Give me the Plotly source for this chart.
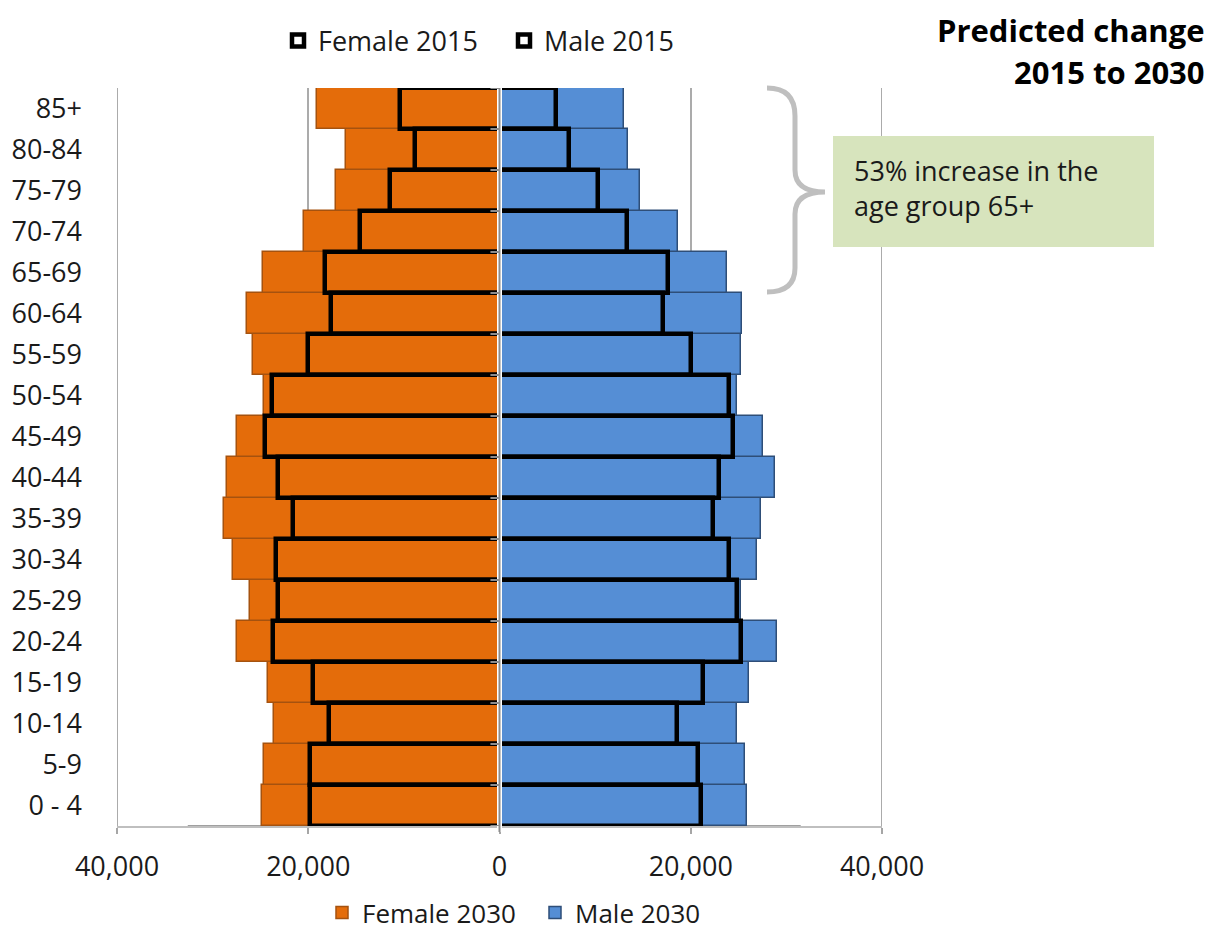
import plotly.graph_objects as go

# Age bands, youngest first (plotted bottom to top)
ages = ["0 - 4", "5-9", "10-14", "15-19", "20-24", "25-29", "30-34", "35-39",
        "40-44", "45-49", "50-54", "55-59", "60-64", "65-69", "70-74", "75-79",
        "80-84", "85+"]

female_2030 = [24850, 24640, 23590, 24220, 27460, 26100, 27870, 28810, 28500,
               27460, 24640, 25790, 26410, 24740, 20460, 17120, 16080, 19100]
male_2030 = [25890, 25680, 24850, 26100, 29020, 25260, 26940, 27350, 28810,
             27560, 24850, 25260, 25370, 23800, 18690, 14720, 13470, 13050]
female_2015 = [19840, 19840, 17850, 19520, 23700, 23180, 23380, 21610, 23180,
               24530, 23800, 20040, 17640, 18270, 14620, 11480, 8870, 10440]
male_2015 = [21090, 20780, 18580, 21300, 25260, 24850, 24010, 22340, 22970,
             24430, 24010, 20040, 17120, 17640, 13360, 10340, 7310, 5950]

x_ticks = [-40000, -20000, 0, 20000, 40000]
x_tick_text = ["40,000", "20,000", "0", "20,000", "40,000"]

W, H = 1209, 938
L, R, T, B = 117, 327, 88, 112
FONT = "Open Sans"
TEXT = "#1a1a1a"
FS = 27


def px(xp):
    """Horizontal pixel -> paper fraction."""
    return (xp - L) / (W - L - R)


def py(yp):
    """Vertical pixel -> paper fraction."""
    return (H - B - yp) / (H - T - B)


fig = go.Figure()

# 2030 projections: filled bars
fig.add_trace(go.Bar(
    y=ages, x=[-v for v in female_2030], orientation="h", name="Female 2030",
    marker=dict(color="#E46C0A", line=dict(color="#A5520F", width=1.5)),
    legend="legend2"))
fig.add_trace(go.Bar(
    y=ages, x=male_2030, orientation="h", name="Male 2030",
    marker=dict(color="#558ED5", line=dict(color="#2E4E78", width=1.5)),
    legend="legend2"))

# 2015 population: hollow outlines on top
fig.add_trace(go.Bar(
    y=ages, x=[-v for v in female_2015], orientation="h", name="Female 2015",
    marker=dict(color="rgba(0,0,0,0)", line=dict(color="black", width=4.5)),
    legend="legend"))
fig.add_trace(go.Bar(
    y=ages, x=male_2015, orientation="h", name="Male 2015",
    marker=dict(color="rgba(0,0,0,0)", line=dict(color="black", width=4.5)),
    legend="legend"))

shapes = []
# outer vertical gridlines at the range edges
for xv in (-40000, 40000):
    shapes.append(dict(type="line", xref="x", yref="paper", x0=xv, x1=xv,
                       y0=0, y1=1, line=dict(color="#ABABAB", width=2),
                       layer="below"))
# darker inner segment of the horizontal axis
shapes.append(dict(type="line", xref="x", yref="paper", x0=-32600, x1=31500,
                   y0=0, y1=0, line=dict(color="#A0A0A0", width=2),
                   layer="below"))
# central vertical axis with category ticks
shapes.append(dict(type="line", xref="x", yref="paper", x0=0, x1=0,
                   y0=py(832), y1=1, line=dict(color="white", width=5),
                   layer="above"))
shapes.append(dict(type="line", xref="x", yref="paper", x0=0, x1=0,
                   y0=py(832), y1=1, line=dict(color="#8C8C8C", width=2),
                   layer="above"))
for k in range(len(ages) + 1):
    shapes.append(dict(type="line", xref="x", yref="y", x0=-950, x1=0,
                       y0=k - 0.5, y1=k - 0.5,
                       line=dict(color="#8C8C8C", width=2), layer="above"))

# curly brace beside the 65+ bands
pts = [(767, 88), (795, 88), (795, 116), (795, 170), (795, 192), (825, 192),
       (795, 192), (795, 214), (795, 268), (795, 292), (767, 292)]
P = [f"{px(a):.5f},{py(b):.5f}" for a, b in pts]
brace = (f"M {P[0]} Q {P[1]} {P[2]} L {P[3]} Q {P[4]} {P[5]} "
         f"Q {P[6]} {P[7]} L {P[8]} Q {P[9]} {P[10]}")
shapes.append(dict(type="path", xref="paper", yref="paper", path=brace,
                   line=dict(color="#BFBFBF", width=5), layer="above"))

# call-out box
shapes.append(dict(type="rect", xref="paper", yref="paper",
                   x0=px(833), x1=px(1154), y0=py(247), y1=py(136),
                   fillcolor="#D7E4BD", line=dict(width=0), layer="above"))

annotations = [
    dict(text="53% increase in the<br>age group 65+", xref="paper",
         yref="paper", x=px(852), y=py(188), xanchor="left",
         yanchor="middle", align="left", showarrow=False,
         font=dict(family=FONT, size=FS, color=TEXT)),
    dict(text="<b>Predicted change</b>", xref="paper", yref="paper",
         x=px(1207), y=py(30), xanchor="right", yanchor="middle",
         showarrow=False, font=dict(family=FONT, size=31, color="black")),
    dict(text="<b>2015 to 2030</b>", xref="paper", yref="paper",
         x=px(1207), y=py(72), xanchor="right", yanchor="middle",
         showarrow=False, font=dict(family=FONT, size=31, color="black")),
]

fig.update_layout(
    width=W, height=H,
    margin=dict(l=L, r=R, t=T, b=B, pad=0, autoexpand=False),
    paper_bgcolor="white", plot_bgcolor="white",
    barmode="overlay", bargap=0,
    font=dict(family=FONT, size=FS, color=TEXT),
    shapes=shapes, annotations=annotations,
    legend=dict(orientation="h", x=px(278), y=py(41), xanchor="left",
                yanchor="middle", font=dict(family=FONT, size=FS, color=TEXT),
                bgcolor="rgba(0,0,0,0)", traceorder="normal",
                entrywidth=181),
    legend2=dict(orientation="h", x=px(322), y=py(936), xanchor="left",
                 yanchor="bottom", font=dict(family=FONT, size=26, color=TEXT),
                 bgcolor="rgba(0,0,0,0)", traceorder="normal",
                 entrywidth=168),
    xaxis=dict(range=[-40000, 40000], tickvals=x_ticks, ticktext=x_tick_text,
               showgrid=True, gridcolor="#ABABAB", gridwidth=2,
               zeroline=False, showline=True, linecolor="#BFBFBF",
               linewidth=2, ticks="outside", ticklen=6, tickcolor="#A6A6A6",
               tickwidth=2, ticklabelstandoff=10,
               tickfont=dict(family=FONT, size=FS, color=TEXT),
               fixedrange=True),
    yaxis=dict(type="category", categoryorder="array", categoryarray=ages,
               range=[-0.5, len(ages) - 0.5], showgrid=False,
               zeroline=False, showline=False, ticks="",
               ticklabelstandoff=34,
               tickfont=dict(family=FONT, size=FS, color=TEXT),
               fixedrange=True),
)

fig.write_html("out.html")
